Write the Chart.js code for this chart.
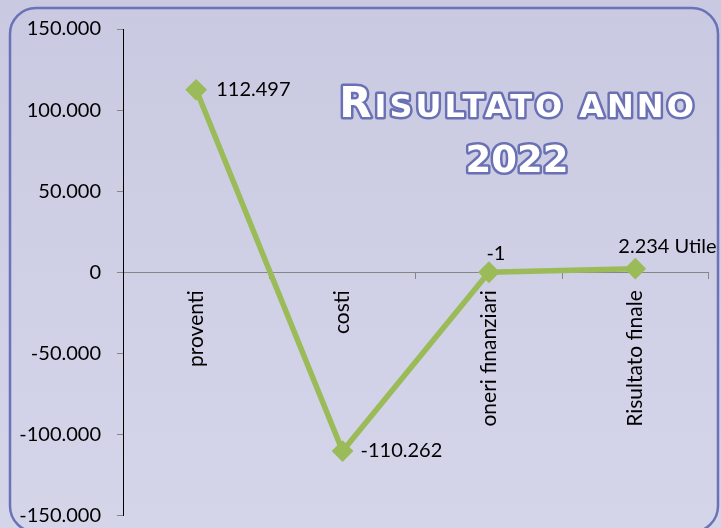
<!DOCTYPE html>
<html>
<head>
<meta charset="utf-8">
<script src="https://cdn.jsdelivr.net/npm/chart.js@4"></script>
<style>
  html, body { margin: 0; padding: 0; background: #cfcfe6; }
  #wrap { width: 721px; height: 528px; }
</style>
</head>
<body>
<div id="wrap"><canvas id="chart" width="721" height="528"></canvas></div>
<script>
// chart data
const categories = ['proventi', 'costi', 'oneri finanziari', 'Risultato finale'];
const values = [112497, -110262, -1, 2234];
const labelSuffixes = ['', '', '', ' Utile'];
const yMin = -150000;
const yMax = 150000;
const yStep = 50000;

// where each value label sits, relative to its point
const labelPlacement = [
    { align: 'left', dx: 20, dy: 0 },
    { align: 'left', dx: 18, dy: -1 },
    { align: 'center', dx: 7, dy: -19 },
    { align: 'left', dx: -17, dy: -22 }
];

const FONT = 'Lato, "Open Sans", sans-serif';

function fmt(v) {
    const s = Math.abs(Math.round(v)).toString().replace(/\B(?=(\d{3})+(?!\d))/g, '.');
    return (v < 0 ? '-' : '') + s;
}

// background + rounded frame
const framePlugin = {
    id: 'frame',
    beforeDraw(chart) {
        const ctx = chart.ctx;
        ctx.save();
        const g = ctx.createLinearGradient(0, 0, 0, chart.height);
        g.addColorStop(0, '#c9c9e1');
        g.addColorStop(1, '#d5d5ea');
        ctx.fillStyle = g;
        ctx.fillRect(0, 0, chart.width, chart.height);
        ctx.strokeStyle = '#6a72b8';
        ctx.lineWidth = 2.5;
        ctx.beginPath();
        ctx.roundRect(10, 8, 708, 524, 26);
        ctx.stroke();
        ctx.restore();
    }
};

// title in small caps with outline
const titlePlugin = {
    id: 'bigTitle',
    afterDraw(chart) {
        const ctx = chart.ctx;
        ctx.save();
        ctx.lineJoin = 'round';
        ctx.strokeStyle = '#6a70b4';
        ctx.fillStyle = '#ffffff';
        ctx.lineWidth = 5;
        ctx.textBaseline = 'alphabetic';
        ctx.letterSpacing = '3px';
        const big = 'bold 42px "DejaVu Sans", sans-serif';
        const small = 'bold 32px "DejaVu Sans", sans-serif';
        const parts = [['R', big], ['ISULTATO ANNO', small]];
        let total = 0;
        parts.forEach(p => { ctx.font = p[1]; total += ctx.measureText(p[0]).width; });
        let x = 518 - total / 2;
        parts.forEach(p => {
            ctx.font = p[1];
            ctx.textAlign = 'left';
            ctx.strokeText(p[0], x, 117);
            ctx.fillText(p[0], x, 117);
            x += ctx.measureText(p[0]).width;
        });
        ctx.letterSpacing = '0px';
        ctx.font = 'bold 37px "DejaVu Sans", sans-serif';
        ctx.textAlign = 'center';
        ctx.strokeText('2022', 517, 172);
        ctx.fillText('2022', 517, 172);
        ctx.restore();
    }
};

// value labels next to the points
const valueLabelPlugin = {
    id: 'valueLabels',
    afterDatasetsDraw(chart) {
        const ctx = chart.ctx;
        const meta = chart.getDatasetMeta(0);
        ctx.save();
        ctx.font = '20px ' + FONT;
        ctx.fillStyle = '#000';
        ctx.textBaseline = 'middle';
        meta.data.forEach((pt, i) => {
            const p = labelPlacement[i];
            ctx.textAlign = p.align;
            ctx.fillText(fmt(values[i]) + labelSuffixes[i], pt.x + p.dx, pt.y + p.dy);
        });
        ctx.restore();
    }
};

new Chart(document.getElementById('chart'), {
    type: 'line',
    data: {
        labels: categories,
        datasets: [{
            data: values,
            borderColor: '#9bbb59',
            borderWidth: 5.5,
            backgroundColor: '#9bbb59',
            pointStyle: 'rectRot',
            pointRadius: 7,
            pointBackgroundColor: '#9bbb59',
            pointBorderColor: '#9bbb59',
            tension: 0
        }]
    },
    options: {
        responsive: false,
        animation: false,
        layout: { padding: { top: 0, right: 12, bottom: 0, left: 0 } },
        plugins: {
            legend: { display: false },
            tooltip: { enabled: false }
        },
        scales: {
            x: {
                type: 'category',
                offset: true,
                position: { y: 0 },
                grid: { offset: true, drawOnChartArea: false, drawTicks: true, tickLength: 6, color: '#868686' },
                border: { color: '#868686', width: 1 },
                ticks: { minRotation: 90, maxRotation: 90, autoSkip: false, color: '#000', padding: 12, font: { family: FONT, size: 21 } }
            },
            y: {
                min: yMin,
                max: yMax,
                grid: { drawOnChartArea: false, tickLength: 6, color: '#868686' },
                border: { color: '#000', width: 1 },
                ticks: { stepSize: yStep, color: '#000', padding: 16, font: { family: FONT, size: 20 }, callback: v => fmt(v) },
                afterFit(s) {
                    s.width = 123;
                    s.paddingTop = 29;
                    s.paddingBottom = 11;
                }
            }
        }
    },
    plugins: [framePlugin, valueLabelPlugin, titlePlugin]
});
</script>
</body>
</html>
